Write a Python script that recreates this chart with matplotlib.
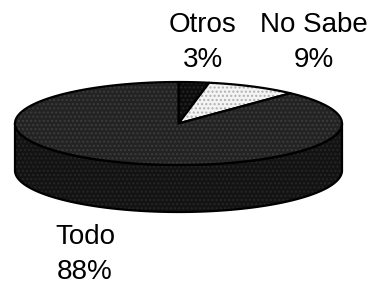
import numpy as np
import matplotlib
matplotlib.use('Agg')
import matplotlib.pyplot as plt
from matplotlib.patches import Polygon

labels = ['Otros', 'No Sabe', 'Todo']
values = [3, 9, 88]
top_colors = ['#0c0c0c', '#f4f4f4', '#232323']
dot_colors = ['#262626', '#b0b0b0', '#3c3c3c']
side_colors = ['#080808', '#bdbdbd', '#131313']
side_dots = ['#1c1c1c', '#909090', '#262626']
# (x centre, first baseline)
label_pos = [(203, 32), (314, 32), (85, 244)]

plt.rcParams['font.family'] = ['Liberation Sans', 'DejaVu Sans']
plt.rcParams['hatch.linewidth'] = 1.0

fig = plt.figure(figsize=(3.73, 2.85), dpi=100)
ax = fig.add_axes([0, 0, 1, 1])
ax.set_xlim(0, 373)
ax.set_ylim(285, 0)
ax.axis('off')

cx, cy = 178.5, 123.5
rx, ry = 163.5, 41.5
depth = 47


def pt(t, dy=0):
    return cx + rx * np.cos(t), cy - ry * np.sin(t) + dy


def draw(poly, face, dots):
    ax.add_patch(Polygon(poly, closed=True, facecolor=face, edgecolor=dots,
                         linewidth=0, hatch='....'))
    ax.add_patch(Polygon(poly, closed=True, facecolor='none',
                         edgecolor='black', linewidth=1.6, joinstyle='round'))


fracs = np.array(values) / sum(values)
bounds = np.radians(90 - 360 * np.concatenate([[0], np.cumsum(fracs)]))

# side walls (front half only)
for i in range(len(values)):
    a, b = bounds[i + 1], bounds[i]
    for lo, hi in [(-np.pi, 0), (-3 * np.pi, -2 * np.pi)]:
        s, e = max(a, lo), min(b, hi)
        if e <= s:
            continue
        t = np.linspace(s, e, 200)
        x, y = pt(t)
        xb, yb = pt(t[::-1], depth)
        poly = np.column_stack([np.concatenate([x, xb]), np.concatenate([y, yb])])
        draw(poly, side_colors[i], side_dots[i])

# top faces
for i in range(len(values)):
    t = np.linspace(bounds[i], bounds[i + 1], 300)
    x, y = pt(t)
    poly = np.vstack([[cx, cy], np.column_stack([x, y])])
    draw(poly, top_colors[i], dot_colors[i])

for lab, v, (lx, ly) in zip(labels, values, label_pos):
    ax.text(lx, ly, lab, ha='center', va='baseline', fontsize=20, color='black')
    ax.text(lx, ly + 35, f'{v}%', ha='center', va='baseline', fontsize=20,
            color='black')

fig.savefig('out.png', dpi=100)
